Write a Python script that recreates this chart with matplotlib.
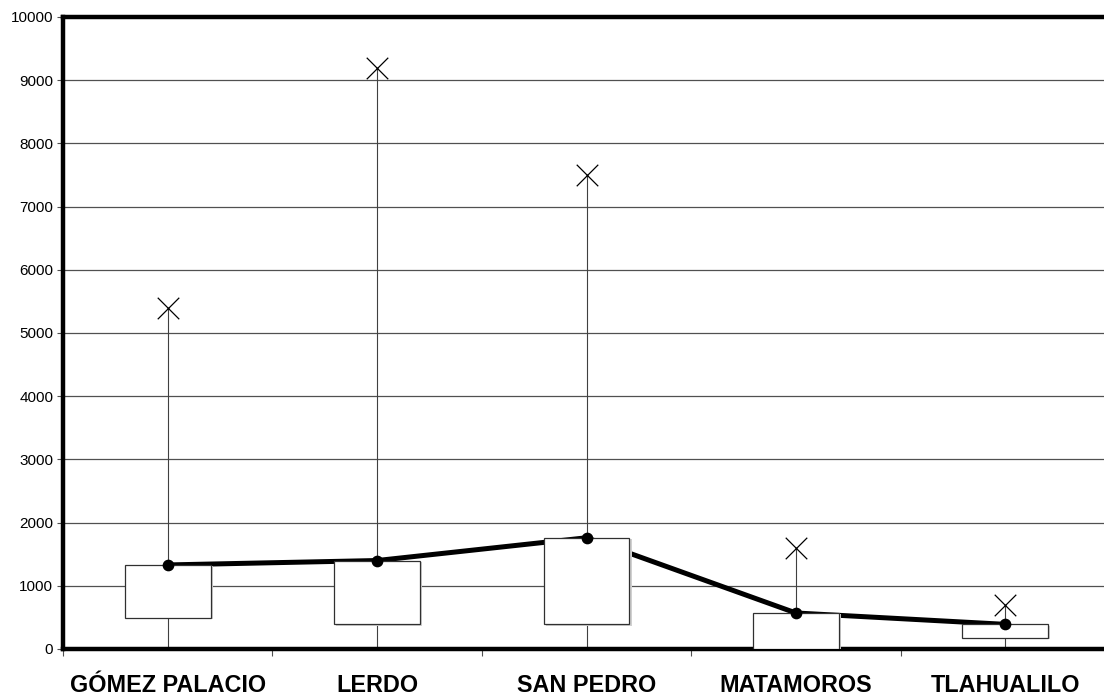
import numpy as np
import matplotlib.pyplot as plt
from matplotlib.patches import Rectangle

# data
# -------------------------------------------------------------------
places = ["GÓMEZ PALACIO", "LERDO", "SAN PEDRO", "MATAMOROS", "TLAHUALILO"]
max_vals = [5400, 9200, 7500, 1600, 700]
box_top = [1330, 1400, 1760, 570, 390]
box_bottom = [490, 390, 390, 0, 180]
low_vals = [0, 0, 0, 0, 0]
mean_vals = [1330, 1400, 1760, 570, 390]

plt.rcParams['font.family'] = ['Liberation Sans', 'DejaVu Sans']

fig = plt.figure(figsize=(11.04, 6.96), dpi=100)
ax = fig.add_axes([63/1104, 47/696, 1047/1104, 632/696])

x = np.arange(len(places))
w = 0.41

# whiskers
for i in x:
    ax.plot([i, i], [low_vals[i], max_vals[i]], color="#404040", lw=0.8, zorder=2)

# mean line
ax.plot(x, mean_vals, color="black", lw=3.6, zorder=3, solid_capstyle="round")

# boxes
for i in x:
    ax.add_patch(Rectangle((i - w/2 + 0.01, box_bottom[i] - 20), w, box_top[i] - box_bottom[i],
                           facecolor="#d0d0d0", edgecolor="none", zorder=3.5))
    ax.add_patch(Rectangle((i - w/2, box_bottom[i]), w, box_top[i] - box_bottom[i],
                           facecolor="white", edgecolor="#303030", lw=0.9, zorder=4))

ax.scatter(x, mean_vals, s=55, color="black", zorder=5)
ax.scatter(x, max_vals, marker="x", s=240, color="black", linewidths=0.9, zorder=5)

# frame
# -------------------------------------------------------------------
ax.set_xlim(-0.5, 4.5)
ax.set_ylim(0, 10000)
ax.set_yticks(np.arange(0, 10001, 1000))
ax.yaxis.grid(True, color="#505050", lw=0.9)
ax.set_axisbelow(True)
ax.set_xticks(x)
ax.set_xticklabels(places, fontsize=16.8, fontweight="bold")
ax.set_xticks(np.arange(-0.5, 4.5, 1), minor=True)
ax.tick_params(axis="x", which="major", length=0, pad=18)
ax.tick_params(axis="x", which="minor", length=5, width=0.8, color="#505050")
ax.tick_params(axis="y", length=4, width=0.8, labelsize=11, color="#505050", pad=3)

for s in ["left", "top", "bottom"]:
    ax.spines[s].set_linewidth(3.2)
    ax.spines[s].set_color("black")
ax.spines["right"].set_visible(False)

fig.savefig("out.png", dpi=100)
